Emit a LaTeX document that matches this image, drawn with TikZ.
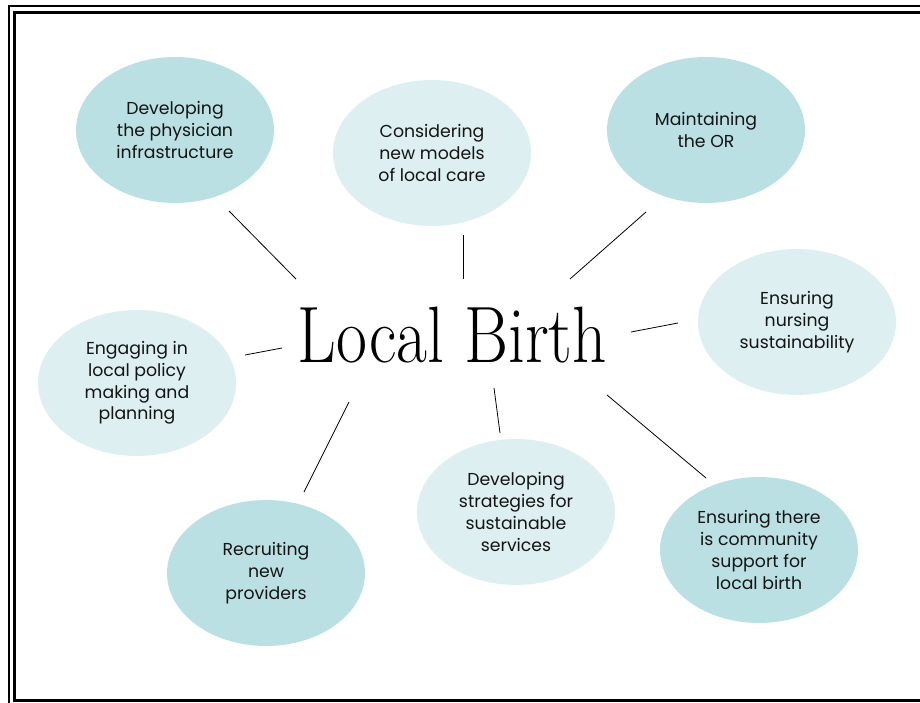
\documentclass[tikz,border=0pt]{standalone}
\usepackage{fontspec}
\usepackage{graphicx}
\setsansfont{Poppins}
\usetikzlibrary{shapes.geometric}
\definecolor{tealdark}{RGB}{187,224,227}
\definecolor{teallight}{RGB}{221,239,241}
\definecolor{inktext}{RGB}{20,20,20}
\begin{document}
\begin{tikzpicture}[x=1pt,y=-1pt,
  bubble/.style={ellipse, minimum width=198pt, minimum height=146pt, inner sep=0pt,
    align=center, text=inktext, font=\sffamily\fontsize{17.3}{21.8}\selectfont},
  darkbubble/.style={bubble, fill=tealdark},
  lightbubble/.style={bubble, fill=teallight},
  spoke/.style={black, line width=0.8pt},
  framethin/.style={black, line width=2.5pt},
  framethick/.style={black, line width=3pt}]
\useasboundingbox (0,0) rectangle (920,703);

% double frame, running off the right and bottom edges
\draw[framethin] (9.2,720) -- (9.2,6.2) -- (930,6.2);
\draw[framethick] (930,700.5) -- (14.5,700.5) -- (14.5,12.5) -- (930,12.5);

% bubbles
\node[darkbubble]  (phys)  at (175,130) {Developing\\the physician\\infrastructure};
\node[lightbubble] (model) at (432,153) {Considering\\new models\\of local care};
\node[darkbubble]  (or)    at (706,130) {Maintaining\\the OR};
\node[lightbubble] (nurse) at (797,322) {Ensuring\\nursing\\sustainability};
\node[lightbubble] (policy) at (137,383) {Engaging in\\local policy\\making and\\planning};
\node[darkbubble]  (recr)  at (266,573) {Recruiting\\new\\providers};
\node[lightbubble] (strat) at (516,512) {Developing\\strategies for\\sustainable\\services};
\node[darkbubble]  (comm)  at (759,550) {Ensuring there\\is community\\support for\\local birth};

% central title
\node[anchor=base, inner sep=0pt, font=\fontsize{80}{80}\selectfont] (title) at (452.5,362)
  {\scalebox{0.84}[1]{Local Birth}};

% spoke end points
\coordinate (a1) at (229,211); \coordinate (a2) at (296,279);
\coordinate (b1) at (463,235); \coordinate (b2) at (463,279);
\coordinate (c1) at (646,212); \coordinate (c2) at (570,279);
\coordinate (d1) at (678,323); \coordinate (d2) at (631,332);
\coordinate (e1) at (245,355); \coordinate (e2) at (282,348);
\coordinate (f1) at (304,492); \coordinate (f2) at (349,402);
\coordinate (g1) at (500,433); \coordinate (g2) at (494,388);
\coordinate (h1) at (706,478); \coordinate (h2) at (607,395);

\draw[spoke] (a1) -- (a2);
\draw[spoke] (b1) -- (b2);
\draw[spoke] (c1) -- (c2);
\draw[spoke] (d1) -- (d2);
\draw[spoke] (e1) -- (e2);
\draw[spoke] (f1) -- (f2);
\draw[spoke] (g1) -- (g2);
\draw[spoke] (h1) -- (h2);
\end{tikzpicture}
\end{document}
